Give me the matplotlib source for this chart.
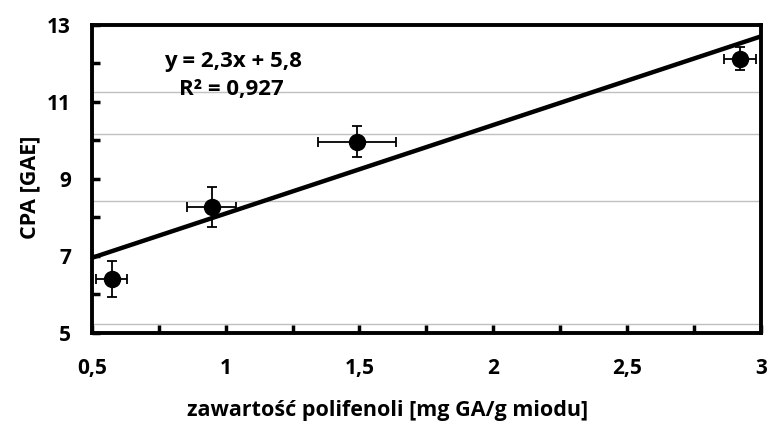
import numpy as np
import matplotlib.pyplot as plt
from matplotlib.ticker import MultipleLocator, FuncFormatter

# dane
polifenole = [0.575, 0.948, 1.49, 2.92]
cpa = [6.40, 8.27, 9.97, 12.12]
x_err = [0.058, 0.092, 0.145, 0.06]
y_err = [0.47, 0.53, 0.41, 0.30]
slope, intercept = 2.3, 5.8
grid_levels = [5.23, 8.43, 10.17, 11.26]
y_ticks = [5, 7, 9, 11, 13]

plt.rcParams['font.family'] = ['Open Sans', 'DejaVu Sans']
plt.rcParams['font.weight'] = 'bold'

fig = plt.figure(figsize=(7.71, 4.28), dpi=100)
ax = fig.add_axes([0.119, 0.222, 0.868, 0.720])

for g in grid_levels:
    ax.axhline(g, color='#c0c0c0', lw=1, zorder=0)

xs = np.array([0.5, 3.0])
ax.plot(xs, slope * xs + intercept, color='black', lw=3.2, zorder=2)

ax.errorbar(polifenole, cpa, xerr=x_err, yerr=y_err, fmt='o', color='black',
            markersize=11.5, elinewidth=1.3, capsize=3.5, capthick=1.3, zorder=3)

ax.set_xlim(0.5, 3)
ax.set_ylim(5, 13)
ax.xaxis.set_major_locator(MultipleLocator(0.5))
ax.xaxis.set_minor_locator(MultipleLocator(0.25))
ax.set_yticks(y_ticks)
ax.yaxis.set_minor_locator(MultipleLocator(1))

fmt = FuncFormatter(lambda v, p: ('%g' % v).replace('.', ','))
ax.xaxis.set_major_formatter(fmt)
ax.yaxis.set_major_formatter(fmt)

ax.tick_params(which='both', direction='in', length=6, width=2.5, labelsize=15)
ax.tick_params(axis='x', pad=18)
ax.tick_params(axis='y', pad=15)

for s in ax.spines.values():
    s.set_linewidth(2.8)

ax.set_xlabel('zawartość polifenoli [mg GA/g miodu]', fontsize=15.5, fontweight='bold')
ax.xaxis.set_label_coords(0.442, -0.218)
ax.set_ylabel('CPA [GAE]', fontsize=15.5, fontweight='bold')
ax.yaxis.set_label_coords(-0.076, 0.474)

ax.text(0.211, 0.88, 'y = 2,3x + 5,8', transform=ax.transAxes, ha='center', va='center',
        fontsize=16, fontweight='bold')
ax.text(0.208, 0.789, 'R² = 0,927', transform=ax.transAxes, ha='center', va='center',
        fontsize=16, fontweight='bold')

fig.savefig('out.png', dpi=100)
